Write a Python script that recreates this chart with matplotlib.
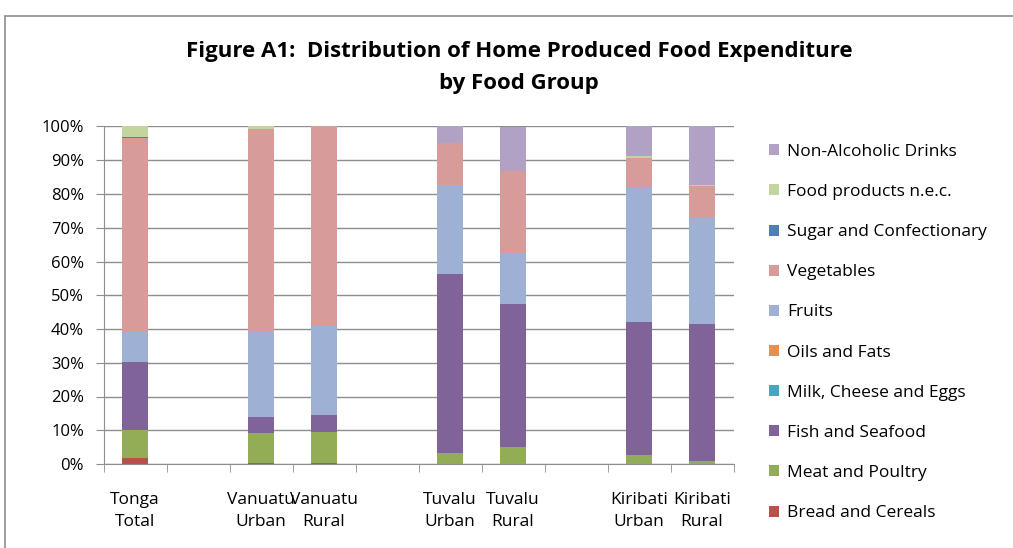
"""
Figure A1: distribution of home produced food expenditure by food group,
100% stacked columns for Tonga, Vanuatu, Tuvalu and Kiribati.
"""

import numpy as np
import matplotlib
matplotlib.use("Agg")
import matplotlib.pyplot as plt
from matplotlib.patches import Patch, Rectangle

plt.rcParams["font.family"] = ["Open Sans", "DejaVu Sans"]

# blank strings are the gaps between countries
categories = ["Tonga\nTotal", "", "Vanuatu\nUrban", "Vanuatu\nRural", "",
              "Tuvalu\nUrban", "Tuvalu\nRural", "", "Kiribati\nUrban", "Kiribati\nRural"]

groups = ["Bread and Cereals", "Meat and Poultry", "Fish and Seafood",
          "Milk, Cheese and Eggs", "Oils and Fats", "Fruits", "Vegetables",
          "Sugar and Confectionary", "Food products n.e.c.", "Non-Alcoholic Drinks"]

# shares in %, one list per food group, in category order (NaN = gap column)
bread = [1.7, np.nan, 0.4, 0.4, np.nan, 0.0, 0.0, np.nan, 0.0, 0.0]
meat = [8.4, np.nan, 8.7, 9.2, np.nan, 3.2, 5.0, np.nan, 2.6, 1.0]
fish = [20.2, np.nan, 4.8, 4.9, np.nan, 53.0, 42.4, np.nan, 39.5, 40.5]
milk = [0.0, np.nan, 0.0, 0.0, np.nan, 0.0, 0.0, np.nan, 0.0, 0.0]
oils = [0.0, np.nan, 0.0, 0.0, np.nan, 0.0, 0.0, np.nan, 0.0, 0.0]
fruits = [8.8, np.nan, 25.6, 26.3, np.nan, 26.6, 15.2, np.nan, 40.1, 31.5]
vegetables = [57.5, np.nan, 59.7, 59.2, np.nan, 12.4, 24.3, np.nan, 8.5, 9.4]
sugar = [0.4, np.nan, 0.0, 0.0, np.nan, 0.0, 0.0, np.nan, 0.0, 0.0]
food_nec = [3.0, np.nan, 0.8, 0.0, np.nan, 0.0, 0.0, np.nan, 0.5, 0.4]
drinks = [0.0, np.nan, 0.0, 0.0, np.nan, 4.8, 13.1, np.nan, 8.8, 17.2]

series = [bread, meat, fish, milk, oils, fruits, vegetables, sugar, food_nec, drinks]
colors = ["#B9504C", "#93AC56", "#7F6399", "#46A5BF", "#E6904D",
          "#9EB1D5", "#D79B9A", "#4F7FB7", "#C3D59E", "#B1A2C5"]

W, H = 1013, 548
fig = plt.figure(figsize=(W / 100, H / 100), dpi=100)

# outer chart frame (runs off the right and bottom edges, as in the source)
fig.patches.append(Rectangle((5 / W, -0.05), 1.05, 1 - 16 / H + 0.05,
                             transform=fig.transFigure, fill=False,
                             edgecolor="#8C8C8C", linewidth=1.2))

ax = fig.add_axes([103.5 / W, (H - 464) / H, 630 / W, (464 - 126.5) / H])

x = np.arange(len(categories))
bottom = np.zeros(len(categories))
for vals, col, name in zip(series, colors, groups):
    v = np.nan_to_num(np.array(vals, dtype=float))
    ax.bar(x, v, bottom=bottom, width=0.41, color=col, label=name, linewidth=0)
    bottom += v

ax.set_xlim(-0.5, len(categories) - 0.5)
ax.set_ylim(0, 100)
ax.set_yticks(np.arange(0, 101, 10))
ax.set_yticklabels([f"{t}%" for t in range(0, 101, 10)], fontsize=12)
ax.yaxis.grid(True, color="#8E8E8E", linewidth=1)
ax.set_axisbelow(True)

ax.set_xticks(x)
ax.set_xticklabels(categories, fontsize=12.5, linespacing=1.5)
ax.set_xticks(np.arange(-0.5, len(categories), 1), minor=True)
ax.tick_params(axis="x", which="major", length=0, pad=20)
ax.tick_params(axis="x", which="minor", length=6, color="#8E8E8E", direction="out")
ax.tick_params(axis="y", length=6, color="#8E8E8E", pad=8)

for side in ["top", "right"]:
    ax.spines[side].set_visible(False)
for side in ["left", "bottom"]:
    ax.spines[side].set_color("#8E8E8E")

fig.text(519 / W, 1 - 51 / H, "Figure A1:  Distribution of Home Produced Food Expenditure",
         ha="center", va="center", fontsize=16, fontweight="bold")
fig.text(519 / W, 1 - 83 / H, "by Food Group",
         ha="center", va="center", fontsize=16, fontweight="bold")

handles = [Patch(facecolor=c, edgecolor="none") for c in colors][::-1]
fig.legend(handles, groups[::-1], loc="upper left",
           bbox_to_anchor=(762 / W, 1 - 137 / H), frameon=False,
           fontsize=12.5, handlelength=0.6, handleheight=0.6,
           handletextpad=0.45, labelspacing=1.39, borderaxespad=0)

fig.savefig("out.png", dpi=100)
